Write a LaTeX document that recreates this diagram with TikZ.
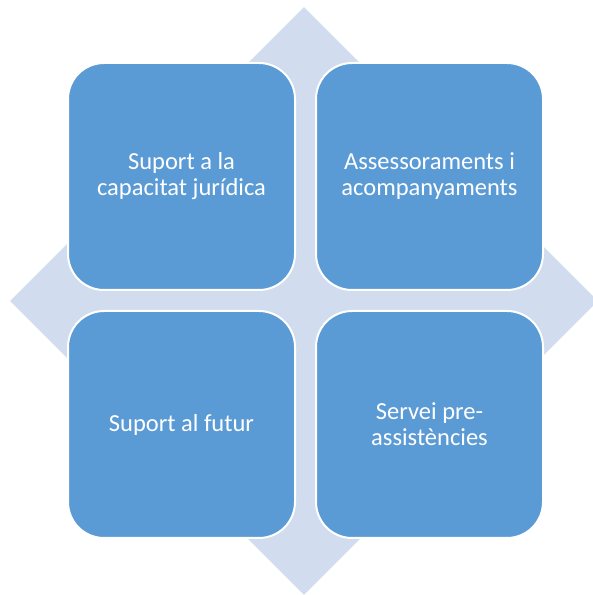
\documentclass[tikz,border=0pt]{standalone}
\usepackage{fontspec}
\setmainfont{Carlito}
\usetikzlibrary{positioning,shapes.geometric}
\definecolor{boxblue}{HTML}{5B9BD5}
\definecolor{crossgrey}{HTML}{D1DCEE}

\begin{document}
\begin{tikzpicture}[x=1pt,y=1pt,node distance=21pt,
	quad/.style={draw=white,line width=2pt,fill=boxblue,rounded corners=36pt,
		minimum width=227pt,minimum height=227pt,inner sep=0pt,outer sep=0pt,
		text=white,align=center,font=\fontsize{24.5}{26}\selectfont}]
	\useasboundingbox (0,0) rectangle (593,595);
	\clip (0,0) rectangle (593,595);
	\node[diamond,fill=crossgrey,minimum width=588pt,minimum height=588pt,inner sep=0pt] (cross) at (304,294) {};
	\node[quad] (q_tl) at (181.5,418.5) {Suport a la\\capacitat jurídica};
	\node[quad] (q_tr) [right=of q_tl] {Assessoraments i\\acompanyaments};
	\node[quad] (q_bl) [below=of q_tl] {Suport al futur};
	\node[quad] (q_br) [right=of q_bl] {Servei pre-\\assistències};
\end{tikzpicture}
\end{document}
